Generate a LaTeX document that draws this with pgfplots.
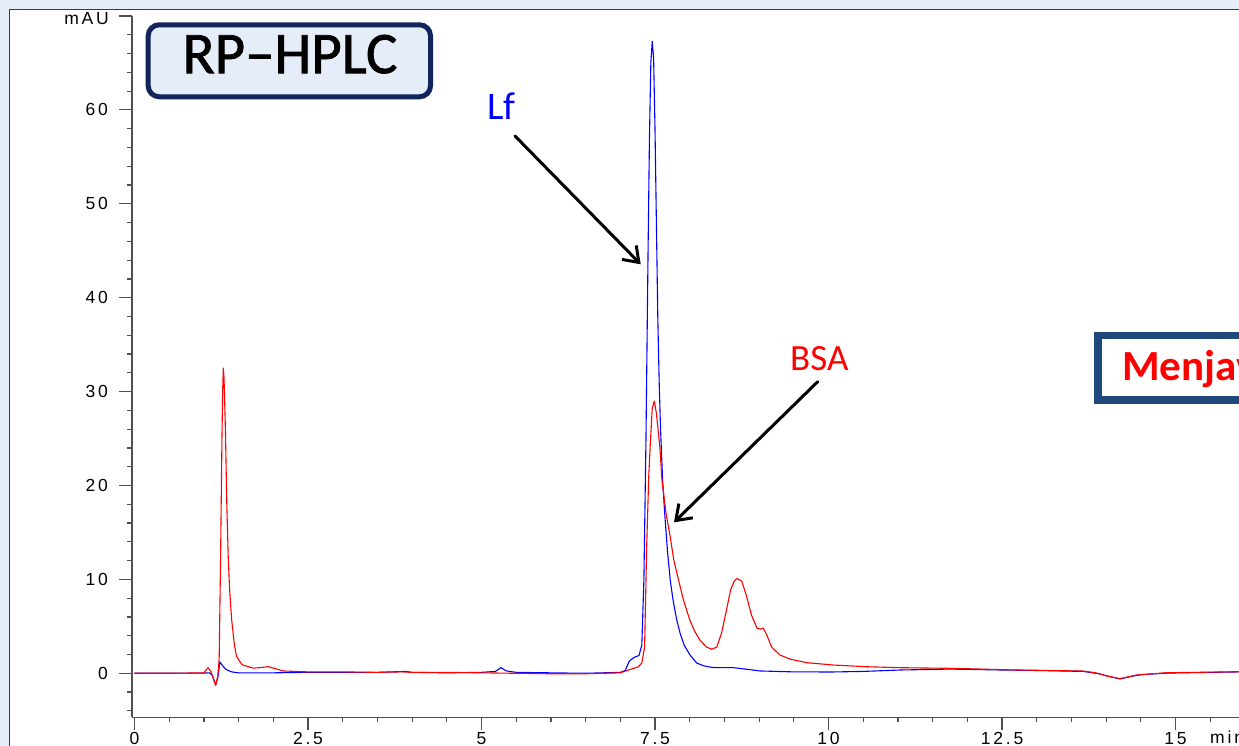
\documentclass[border=0pt]{standalone}
\usepackage{fontspec}
\usepackage{pgfplots}
\pgfplotsset{compat=1.18}
\usetikzlibrary{arrows.meta}
\setmainfont{Liberation Sans}
\newfontfamily\tickfam[LetterSpace=16]{Liberation Sans}
\newfontfamily\carlito{Carlito}
\newfontfamily\carlitoheavy[FakeBold=1.3]{Carlito}
\newcommand\tickfont{\tickfam\fontsize{17.5}{20}\selectfont}

\definecolor{pagebg}{RGB}{229,237,248}
\definecolor{panelgray}{RGB}{60,60,60}
\definecolor{axisgray}{RGB}{80,80,80}
\definecolor{navy}{RGB}{18,36,92}
\definecolor{steel}{RGB}{31,73,125}
\definecolor{lfblue}{RGB}{0,0,255}
\definecolor{bsared}{RGB}{255,0,0}

\begin{document}
\begin{tikzpicture}[px/.style={x=1pt,y=-1pt,shift={(-134.5pt,673.3pt)}}]
% picture frame = 1239 x 746 px, data origin (0,0) sits at pixel (134.5,673.3)
\useasboundingbox (-134.5pt,-72.7pt) rectangle (1104.5pt,673.3pt);
\clip (-134.5pt,-72.7pt) rectangle (1104.5pt,673.3pt);

\begin{scope}[px]
\fill[pagebg] (0,0) rectangle (1239,746);
\filldraw[fill=white, draw=panelgray, line width=1.5pt] (9.3,9.3) rectangle (1280,790);
\end{scope}

% ===== chromatogram =====
\begin{axis}[
    anchor=origin, at={(0pt,0pt)},
    x=69.4pt, y=9.39pt,
    xmin=-0.035, xmax=16.5,
    ymin=-4.69, ymax=70,
    axis lines*=left,
    axis line style={-, draw=axisgray, line width=1.3pt},
    tick align=outside,
    major tick length=13pt,
    minor tick length=5pt,
    tick style={draw=axisgray, line width=1.2pt},
    xtick={0,2.5,5,7.5,10,12.5,15},
    xticklabels={0,2.5,5,7.5,10,12.5,15},
    minor xtick={0.5,1,...,16.5},
    ytick={0,10,20,30,40,50,60,70},
    yticklabels={0,10,20,30,40,50,60,{}},
    minor ytick={-4,-2,...,68},
    tick label style={font=\tickfont, text=black, inner sep=0pt},
    yticklabel style={xshift=-11pt},
    xticklabel style={yshift=-1.5pt},
    every axis plot/.append style={line width=1.1pt, line join=round},
]
\addplot[lfblue] coordinates {
(0,0) (0.5,0.02) (1.0,0.02) (1.08,0.05) (1.12,-0.2) (1.17,-1.2) (1.2,-0.5)
(1.23,1.2) (1.27,0.8) (1.32,0.4) (1.4,0.15) (1.5,0.05) (2.0,0.05) (2.5,0.1)
(3.0,0.1) (3.5,0.1) (3.9,0.2) (4.0,0.1) (4.5,0.05) (5.0,0.1) (5.2,0.2)
(5.28,0.6) (5.36,0.25) (5.5,0.1) (6.0,0.05) (6.5,0.0) (7.0,0.1) (7.07,0.3)
(7.13,1.3) (7.2,1.7) (7.27,1.9) (7.31,3) (7.34,10) (7.37,25) (7.40,45)
(7.42,57) (7.44,65) (7.46,67.3) (7.48,65.5) (7.50,58) (7.52,48) (7.54,38)
(7.56,31) (7.58,26) (7.61,20.5) (7.64,17) (7.68,13) (7.72,9.9) (7.76,7.8)
(7.81,5.8) (7.86,4.3) (7.92,3.0) (8.0,2.0) (8.1,1.1) (8.2,0.8) (8.3,0.65)
(8.39,0.6) (8.63,0.6) (8.8,0.45) (9.01,0.25) (9.5,0.15)
(10.06,0.14) (10.5,0.2) (11.03,0.35) (11.75,0.45) (12.5,0.35) (13.0,0.3)
(13.67,0.2) (13.9,-0.05) (14.05,-0.35) (14.2,-0.6) (14.35,-0.35)
(14.5,-0.15) (14.87,0.02) (15.5,0.1) (15.92,0.15) (16.5,0.15)
};
\addplot[bsared] coordinates {
(0,0) (0.5,0.0) (1.0,0.05) (1.06,0.6) (1.1,0.2) (1.17,-1.3) (1.2,-0.3)
(1.22,1.5) (1.24,12) (1.26,25) (1.27,30) (1.28,32.5) (1.29,31.5) (1.31,26)
(1.33,18) (1.35,12.5) (1.37,9) (1.40,5.7) (1.44,3) (1.47,1.8) (1.55,0.9)
(1.71,0.55) (1.8,0.6) (1.93,0.7) (2.05,0.45) (2.14,0.25) (2.5,0.15)
(3.0,0.15) (3.5,0.1) (3.85,0.15) (4.0,0.1) (4.5,0.1) (5.0,0.05) (5.5,0.0)
(6.0,-0.05) (6.5,-0.05) (7.0,0.05) (7.14,0.4) (7.26,0.7) (7.31,1.1)
(7.35,2.8) (7.38,13.5) (7.41,21) (7.43,24.1) (7.46,28.2) (7.49,29.0)
(7.52,27.7) (7.57,24.1) (7.60,20.6) (7.66,17.0) (7.72,14.5) (7.77,12.1)
(7.84,9.9) (7.91,7.8) (8.0,5.7) (8.07,4.5) (8.15,3.5) (8.24,2.8)
(8.32,2.56) (8.39,2.8) (8.46,4.3) (8.52,6.4) (8.59,8.9) (8.64,9.8)
(8.68,10.1) (8.75,9.8) (8.82,8.2) (8.89,6.2) (8.97,4.8) (9.02,4.7)
(9.06,4.8) (9.11,4.1) (9.18,2.8) (9.30,1.95) (9.45,1.5) (9.69,1.13)
(10.07,0.88) (10.55,0.7) (11.0,0.6) (11.75,0.53) (12.2,0.45) (12.71,0.35)
(13.2,0.3) (13.67,0.24) (13.85,0.05) (14.01,-0.29) (14.2,-0.57)
(14.44,-0.18) (14.87,0.06) (15.5,0.12) (15.92,0.17) (16.5,0.2)
};
\end{axis}

% ===== annotations, in pixel units of the reference =====
\begin{scope}[px]
\node[font=\tickfont, anchor=base east, inner sep=0pt] at (109,25) {mAU};
\node[font=\tickfont, anchor=base west, inner sep=0pt] at (1210,744) {min};
% title box
\draw[draw=navy, fill=pagebg, line width=5pt, rounded corners=11pt]
    (148.2,24.8) rectangle (430.5,96.8);
\node[font=\carlitoheavy\fontsize{59}{61}\selectfont, inner sep=0pt] at (290,54.2) {RP–HPLC};
% peak labels
\node[font=\carlito\fontsize{39}{42}\selectfont, text=lfblue, anchor=base west, inner sep=0pt]
    at (487,119.3) {Lf};
\node[font=\carlito\fontsize{37}{40}\selectfont, text=bsared, anchor=base west, inner sep=0pt]
    at (790,371) {BSA};
\draw[line width=3pt, line cap=round, -{Straight Barb[length=14pt,width=20pt]}]
    (515,136) -- (640.7,264.3);
\draw[line width=3pt, line cap=round, -{Straight Barb[length=14pt,width=20pt]}]
    (817.7,381.7) -- (674,522.3);
% right side box (cut by the frame)
\filldraw[fill=white, draw=steel, line width=7.5pt] (1097.8,335.5) rectangle (1300,400.2);
\node[font=\carlito\bfseries\fontsize{43}{46}\selectfont, text=bsared, anchor=base west, inner sep=0pt]
    at (1122,381) {Menjav};
\end{scope}
\end{tikzpicture}
\end{document}
